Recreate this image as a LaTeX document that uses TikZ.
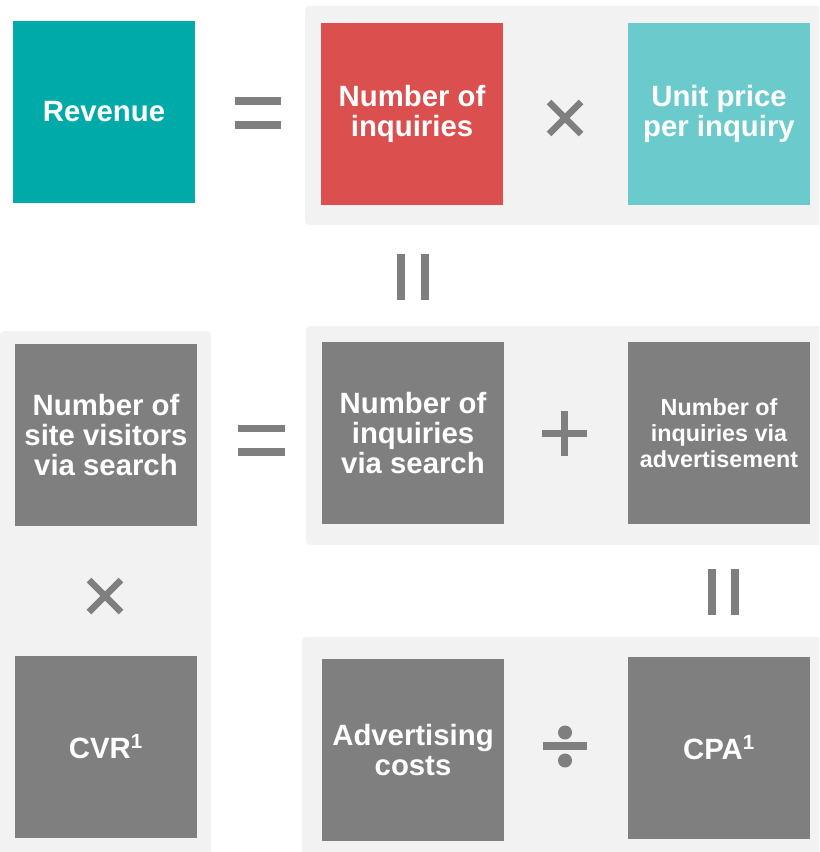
\documentclass[tikz,border=0pt]{standalone}
\usepackage{fontspec}
\setmainfont{Liberation Sans}
\definecolor{revteal}{RGB}{0,170,169}
\definecolor{inqred}{RGB}{219,79,79}
\definecolor{priceteal}{RGB}{107,203,204}
\definecolor{kpigray}{RGB}{127,127,127}
\definecolor{panelgray}{RGB}{242,242,242}
\tikzset{
    kpi/.style = {rectangle, minimum width=136.5pt, minimum height=136.5pt, inner sep=0pt, align=center, text=white, fill=kpigray, font=\bfseries\fontsize{22}{22.8}\selectfont},
    kpismall/.style = {kpi, font=\bfseries\fontsize{17.5}{19.5}\selectfont},
    panel/.style = {fill=panelgray, rounded corners=3pt},
    opline/.style = {draw=kpigray, line width=5pt},
    opfill/.style = {fill=kpigray}
}

\begin{document}
\begin{tikzpicture}[x=0.75pt, y=-0.75pt]
\clip (0,0) rectangle (819,852);

% Background panels
\path[panel] (305,6) rectangle (835,225);
\path[panel] (306,326) rectangle (835,545);
\path[panel] (0,331) rectangle (211,870);
\path[panel] (302,637) rectangle (835,870);

% Top row: revenue = inquiries x unit price
\node (revenue) [kpi, fill=revteal] at (104,112) {Revenue};
\node (inquiries) [kpi, fill=inqred] at (412,114) {Number of\\inquiries};
\node (unitprice) [kpi, fill=priceteal] at (719,114) {Unit price\\per inquiry};

% Middle row: visitors = via search + via advertisement
\node (visitors) [kpi] at (106,435) {Number of\\site visitors\\via search};
\node (viasearch) [kpi] at (413,433) {Number of\\inquiries\\via search};
\node (viaads) [kpismall] at (719,433) {Number of\\inquiries via\\advertisement};

% Bottom row
\node (cvr) [kpi] at (106,746.5) {CVR\textsuperscript{1}};
\node (adcosts) [kpi] at (413,750) {Advertising\\costs};
\node (cpa) [kpi] at (719,748) {CPA\textsuperscript{1}};

% Operators: equals
\path[opfill] (235,97) rectangle (281,105);
\path[opfill] (235,121) rectangle (281,129);
\path[opfill] (238,425) rectangle (285,432);
\path[opfill] (238,448) rectangle (285,456);

% Operators: vertical equals
\path[opfill] (397,254) rectangle (405,300);
\path[opfill] (421,254) rectangle (429,300);
\path[opfill] (708,569) rectangle (716,615);
\path[opfill] (731,569) rectangle (739,615);

% Operators: times
\draw[opline] (549,102) -- (581,134);
\draw[opline] (549,134) -- (581,102);
\draw[opline] (89,580) -- (121,612);
\draw[opline] (89,612) -- (121,580);

% Operators: plus
\path[opfill] (542,430) rectangle (587,437);
\path[opfill] (561,411) rectangle (568,456);

% Operators: divide
\path[opfill] (543,742) rectangle (587,750);
\fill[kpigray] (565,732.5) circle (5.25pt);
\fill[kpigray] (565,760.5) circle (5.25pt);

\end{tikzpicture}
\end{document}
